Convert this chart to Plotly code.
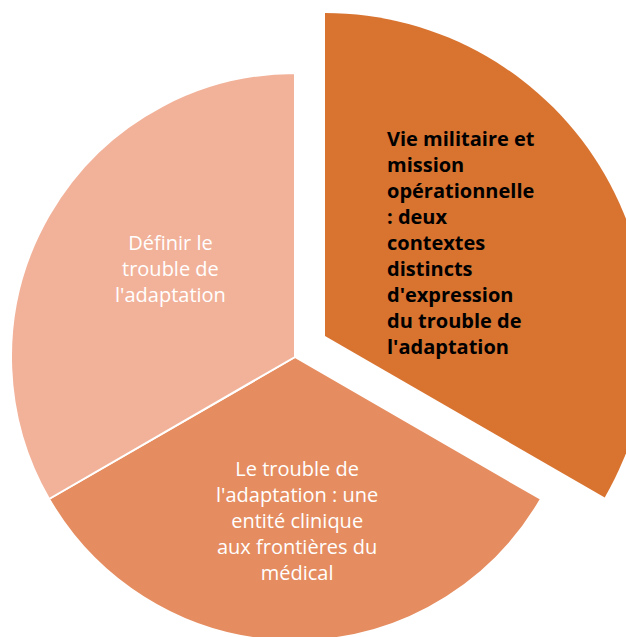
import plotly.graph_objects as go

# ---- data ----
labels = [
    "Vie militaire et<br>mission<br>opérationnelle<br>: deux<br>contextes<br>distincts<br>d'expression<br>du trouble de<br>l'adaptation",
    "Le trouble de<br>l'adaptation : une<br>entité clinique<br>aux frontières du<br>médical",
    "Définir le<br>trouble de<br>l'adaptation",
]
values = [1, 1, 1]
slice_colors = ["#D87330", "#E58D60", "#F2B29A"]

# ---- geometry (pixels) ----
W, H = 700, 680
main_c, main_r = (295, 357), 284
pull_c, pull_r = (325, 336), 323


def dom(c, r):
    cx, cy = c
    return dict(x=[(cx - r) / W, (cx + r) / W],
                y=[(H - (cy + r)) / H, (H - (cy - r)) / H])


fig = go.Figure()
fig.add_trace(go.Pie(
    labels=labels, values=values, sort=False, direction="clockwise", rotation=0,
    marker=dict(colors=["rgba(0,0,0,0)", slice_colors[1], slice_colors[2]],
                line=dict(color="white", width=2)),
    textinfo="none", hoverinfo="skip", domain=dom(main_c, main_r), showlegend=False,
))
fig.add_trace(go.Pie(
    labels=labels, values=values, sort=False, direction="clockwise", rotation=0,
    marker=dict(colors=[slice_colors[0], "rgba(0,0,0,0)", "rgba(0,0,0,0)"],
                line=dict(width=0)),
    textinfo="none", hoverinfo="skip", domain=dom(pull_c, pull_r), showlegend=False,
))

font_family = "'Open Sans', 'Noto Sans', sans-serif"
text_pos = [  # (x, y) pixel centre / anchor of the label block
    (385, 242, "left", "#000000", True),
    (297, 520, "center", "#FFFFFF", False),
    (170, 269, "center", "#FFFFFF", False),
]
for lab, (px, py, al, col, bold) in zip(labels, text_pos):
    fig.add_annotation(
        x=px / W, y=1 - py / H, xref="paper", yref="paper",
        text=f"<b>{lab}</b>" if bold else lab,
        showarrow=False, align=al, xanchor="left" if al == "left" else "center",
        yanchor="middle",
        font=dict(family=font_family, size=20, color=col),
    )

fig.update_layout(
    width=W, height=H, margin=dict(l=0, r=0, t=0, b=0),
    paper_bgcolor="white", plot_bgcolor="white", showlegend=False,
)

fig.write_html(
    "out.html",
    post_script="document.body.style.margin='0';document.body.style.overflow='hidden';"
                "document.documentElement.style.overflow='hidden';",
)
